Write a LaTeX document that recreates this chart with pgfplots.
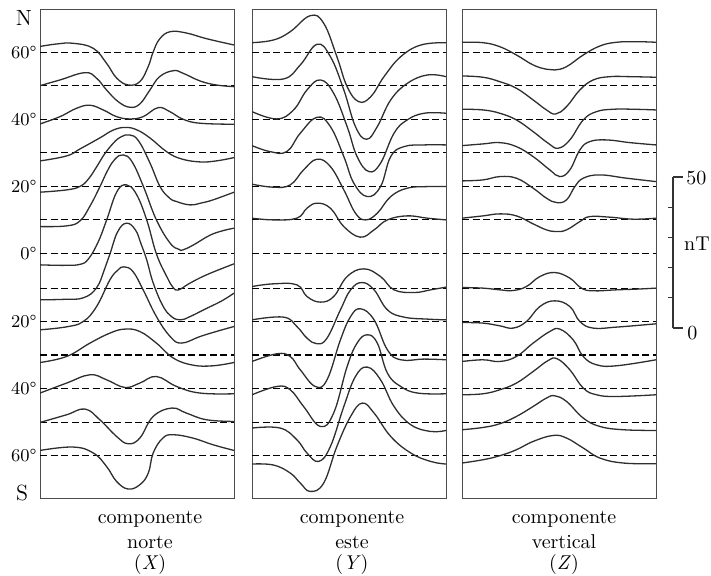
\documentclass[border=0pt]{standalone}
\usepackage{pgfplots}
\pgfplotsset{compat=1.18}
\pgfplotsset{
  panel/.style={scale only axis, width=97pt, height=244.5pt,
    xmin=0, xmax=24, ymin=-244.3, ymax=245,
    xtick=\empty, ytick=\empty,
    axis line style={line width=0.5pt, black!70}},
  cv/.style={smooth, tension=0.7, line width=0.65pt, black!82},
  bl/.style={line width=0.6pt, black, dash pattern=on 3.5pt off 1.8pt},
}
\newcommand{\baselines}{%
  \pgfplotsinvokeforeach{201.7,168.3,134.7,101.7,67.3,34,0,-34.3,-67.3,-101.3,-134.7,-168.7,-202}{%
    \addplot[bl] coordinates {(0,##1) (24,##1)};}}
\begin{document}
\begin{tikzpicture}[x=0.5pt,y=0.5pt]
\useasboundingbox (0,0) rectangle (711,575);

% ---------------- X component ----------------
\begin{axis}[panel, at={(20pt,283pt)}, anchor=north west,
  ytick={201.7,134.7,67.3,0,-67.3,-134.7,-202},
  yticklabels={60°,40°,20°,0°,20°,40°,60°},
  major tick length=0pt,
  yticklabel style={font=\fontsize{9}{10}\selectfont, inner xsep=1.5pt}]
\baselines
\addplot[cv] coordinates {(0,207.5)(2.06,210)(4.1,210.7)(6.59,205.7)(8.23,190.7)(9.47,176)(10.9,169)(12.35,172.3)(13.38,187.3)(14.0,202)(14.8,215)(16.1,222.3)(18.1,221)(20.6,215.3)(24,209)};
\addplot[cv] coordinates {(0,168.3)(2.47,174)(5.56,181.3)(7.0,175.7)(8.23,164)(9.67,152.3)(11.1,146.7)(12.35,150)(13.6,164)(14.8,177.3)(16.5,183.3)(17.7,180.7)(19.8,173)(21.8,169)(24,167.3)};
\addplot[cv] coordinates {(0,130)(2.47,137.3)(4.53,145.7)(6.18,148.7)(7.82,144)(9.47,137.3)(11.1,135)(12.76,137.3)(14.6,146.3)(16.06,142.3)(17.7,134.7)(19.8,130.7)(24,129.7)};
\addplot[cv] coordinates {(0,93)(3.3,98)(4.95,105)(7.4,116)(9.1,124)(10.6,126.5)(12,124)(13.6,116)(15.7,102)(17.5,95)(19.8,92)(21.8,93)(24,96.3)};
\addplot[cv] coordinates {(0,61.7)(3.3,64)(4.95,67.5)(6,75)(7,87)(8,100)(9.1,111)(10,117)(11.1,119)(12.2,113)(13.6,91)(14.85,67.3)(16,56)(16.9,52.3)(18.56,49)(20,51)(21.4,54)(24,61.7)};
\addplot[cv] coordinates {(0,27.3)(3.3,28)(4.95,33)(6.2,48)(7.4,67)(8.4,84)(9.3,95)(10.3,99)(11.4,92)(12.8,67.3)(14.4,34)(16.1,10.7)(17.2,4.5)(17.7,4)(19,9)(21.4,20)(24,25.7)};
\addplot[cv] coordinates {(0,-11)(3,-11.5)(4.95,-10.5)(6,-5)(7.2,12)(8.25,34)(9.5,62)(10.7,69)(11.9,60)(13.2,34)(14.4,0)(15.7,-23)(16.5,-34)(17.2,-36)(18.4,-30)(20.6,-21)(24,-10)};
\addplot[cv] coordinates {(0,-46)(3,-45.5)(5.35,-44)(7.0,-34)(8,-15)(8.66,0)(9.6,22)(10.7,30.7)(11.8,24)(12.5,10)(13.2,-6)(14.0,-29)(15.2,-52)(16.3,-63)(17.4,-66)(18.5,-63)(20.5,-55)(22.5,-47)(24,-39.3)};
\addplot[cv] coordinates {(0,-76)(3.3,-73)(5.35,-67.7)(7.0,-52.7)(8.65,-26)(9.67,-16)(10.4,-13)(11.5,-17.7)(12.76,-36)(14.4,-62.7)(16.1,-82.7)(17.5,-89.3)(19.8,-82.7)(21.8,-77.7)(24,-72.7)};
\addplot[cv] coordinates {(0,-108.7)(3.29,-102.7)(6.18,-89.3)(8.65,-79.3)(10.5,-75.3)(12.35,-77.7)(14.4,-89.3)(16.5,-104.3)(18.9,-111.3)(21.4,-112)(24,-108.7)};
\addplot[cv] coordinates {(0,-139.3)(3.29,-129.3)(6.18,-121)(8.23,-126)(10.5,-133.7)(12.35,-129.3)(14.4,-122.7)(16.9,-132.7)(19.8,-139.3)(24,-140)};
\addplot[cv] coordinates {(0,-168.7)(3.29,-161)(5.56,-155.3)(7.4,-166)(9.47,-182.7)(10.9,-190)(12.35,-184.3)(14.0,-162.7)(16.3,-154.3)(18.1,-159.3)(20.6,-166)(24,-167.7)};
\addplot[cv] coordinates {(0,-196.7)(4.1,-193.3)(6.6,-199.3)(8.23,-212.7)(9.47,-227.7)(10.9,-235.3)(12.35,-231)(13.4,-219.3)(14.0,-199.3)(15.2,-184.3)(16.5,-181)(18.9,-184.3)(21.4,-191)(24,-196.7)};
\end{axis}

% ---------------- Y component ----------------
\begin{axis}[panel, at={(126pt,283pt)}, anchor=north west]
\baselines
\addplot[cv] coordinates {(0,211.3)(2.65,214)(4.73,222.3)(7.2,238.3)(8.87,230.7)(10.5,197.3)(11.77,167.3)(13.2,152.3)(14.7,157.3)(16.33,177.3)(18.4,197.3)(20.9,209)(24,211.3)};
\addplot[cv] coordinates {(0,177.3)(3.9,175)(5.97,189)(8.04,209.7)(9.7,197.3)(11.36,164)(12.8,127.3)(14.18,114.7)(15.5,127.3)(17.16,154)(19.23,170.7)(21.7,179)(24,177.3)};
\addplot[cv] coordinates {(0,142.3)(3.07,135)(5.14,144)(6.8,164)(8.46,174)(10.1,160.7)(11.77,127.3)(13.0,97.3)(14.47,82.3)(15.9,90.7)(17.57,120.7)(19.2,134)(21.3,140.7)(24,140.7)};
\addplot[cv] coordinates {(0,108.3)(2.24,102.3)(4.3,102.3)(5.97,120.7)(8.04,136.7)(9.7,127.3)(11.36,97.3)(12.6,70.7)(14.26,57.3)(15.9,67.3)(17.16,97.3)(18.8,107.3)(21.3,109)(24,109)};
\addplot[cv] coordinates {(0,69.7)(2.65,66.7)(4.73,69)(6.38,84)(8.04,94.7)(9.7,87.3)(11.36,64)(12.8,40.7)(14.05,34)(15.5,40.7)(17.16,57.3)(19.2,65.7)(21.7,67.3)(24,67.3)};
\addplot[cv] coordinates {(0,35.7)(2.65,34)(5.55,35.7)(6.8,45.7)(8.04,50.7)(9.7,45.7)(11.36,27.3)(13.4,16.7)(15.1,24)(16.75,34)(19.2,38)(21.7,35.7)(24,34)};
\addplot[cv] coordinates {(0,-32.7)(2.65,-30)(5.55,-31)(6.8,-42.7)(8.46,-48.3)(10.1,-42.7)(11.77,-22.7)(13.84,-15)(15.9,-22.7)(17.57,-36)(20.06,-38.7)(22.1,-36)(24,-33.3)};
\addplot[cv] coordinates {(0,-66)(3.9,-63.3)(5.55,-72.7)(6.8,-84.3)(8.04,-90)(9.28,-84.3)(10.94,-56)(12.2,-36)(13.6,-28.7)(15.1,-36)(16.75,-56)(18.8,-63.3)(21.7,-65.3)(24,-66)};
\addplot[cv] coordinates {(0,-107.7)(3.07,-100)(4.73,-102.7)(5.97,-116)(7.83,-132.7)(9.28,-126)(10.94,-86)(12.2,-62.7)(13.43,-55)(15.1,-66)(16.75,-96)(18.4,-106)(21.3,-105.3)(24,-106)};
\addplot[cv] coordinates {(0,-141)(3.07,-132.7)(4.73,-136)(6.38,-152.7)(8.46,-172.7)(10.1,-159.3)(11.77,-112.7)(13.0,-89.3)(14.26,-81)(15.5,-89.3)(16.75,-119.3)(18.4,-132.7)(20.5,-139.3)(24,-140)};
\addplot[cv] coordinates {(0,-174.3)(3.48,-174.3)(5.55,-186)(6.8,-199.3)(8.25,-207.7)(9.7,-192.7)(11.36,-152.7)(12.8,-122.7)(14.26,-113.3)(15.9,-126)(17.57,-152.7)(19.65,-171)(22.1,-177.7)(24,-176.7)};
\addplot[cv] coordinates {(0,-210.3)(2.65,-211.3)(4.73,-219.3)(5.97,-229.3)(7.2,-237.7)(8.87,-229.3)(10.5,-192.7)(12.2,-162.7)(13.64,-149.3)(15.1,-159.3)(17.16,-182.7)(19.65,-199.3)(22.1,-207.7)(24,-210.3)};
\end{axis}

% ---------------- Z component ----------------
\begin{axis}[panel, at={(231pt,283pt)}, anchor=north west]
\baselines
\addplot[cv] coordinates {(0,211.7)(2.6,211.3)(4.67,207.3)(6.73,199)(8.8,189)(10.45,184.7)(11.48,184)(12.93,187.3)(15.0,199)(17.06,208)(19.1,211.7)(21.6,212.3)(24,211.7)};
\addplot[cv] coordinates {(0,178)(2.6,176.7)(4.67,172.3)(6.73,165.7)(8.8,154)(10.45,144)(11.6,140)(12.93,147.3)(14.58,164)(16.23,174)(18.3,177.3)(20.77,177.3)(24,176.7)};
\addplot[cv] coordinates {(0,144.7)(2.6,144)(4.67,140.7)(6.73,134)(8.8,122.3)(10.66,110.7)(11.9,105.7)(13.34,114)(15.0,134)(16.64,142.3)(18.7,144.7)(21.2,144.7)(24,144)};
\addplot[cv] coordinates {(0,108.3)(2.6,110)(4.67,111.3)(6.73,107.3)(8.8,97.3)(10.86,84)(12.1,77.3)(13.34,84)(14.58,104)(15.8,112.3)(17.9,114)(20.77,111.3)(24,109)};
\addplot[cv] coordinates {(0,73)(2.6,74)(4.67,77.3)(6.73,75.7)(8.8,65.7)(10.45,55.7)(11.7,51.3)(12.93,54)(13.96,67.3)(15.0,75.7)(17.06,79)(20.36,75.7)(24,72.3)};
\addplot[cv] coordinates {(0,35.7)(2.6,38)(4.67,40)(6.73,38)(8.8,30)(10.45,24)(11.7,22.3)(12.93,24)(14.58,32.3)(15.8,37.3)(18.3,36.7)(21.2,34.7)(24,35.7)};
\addplot[cv] coordinates {(0,-33.7)(2.6,-34.3)(4.67,-36)(6.32,-36.7)(7.97,-32.7)(9.63,-22.7)(11.48,-18.7)(13.34,-24.3)(14.78,-34.3)(16.23,-37)(19.1,-36)(21.6,-35.3)(24,-34.3)};
\addplot[cv] coordinates {(0,-68.7)(2.6,-69.3)(4.67,-72)(6.32,-74.3)(7.97,-67.7)(9.63,-52.7)(11.48,-47)(13.34,-52.7)(14.58,-67.7)(16.23,-74.3)(19.1,-73.3)(24,-70)};
\addplot[cv] coordinates {(0,-107.7)(2.6,-106)(4.67,-107.7)(6.73,-102.7)(8.8,-89.3)(10.86,-77.7)(12.1,-75.3)(13.75,-86)(15.0,-102.7)(16.64,-111)(19.1,-112)(24,-106)};
\addplot[cv] coordinates {(0,-141)(2.6,-140)(4.67,-136)(6.73,-129.3)(8.8,-117.7)(10.66,-106.7)(11.77,-105)(13.34,-116)(15.0,-134.3)(16.64,-141)(19.1,-142.7)(24,-141)};
\addplot[cv] coordinates {(0,-176)(2.6,-173.7)(4.67,-170)(6.73,-162.7)(8.8,-152.7)(10.45,-144.3)(11.48,-142)(12.93,-147.7)(15.0,-164.3)(17.06,-172.7)(19.95,-176)(24,-176.7)};
\addplot[cv] coordinates {(0,-209.3)(2.6,-206)(4.67,-202)(6.73,-196)(8.8,-187.7)(11.27,-181.7)(12.93,-184.3)(15.0,-194.3)(17.06,-204.3)(19.95,-209.3)(24,-210)};
\end{axis}

% ---------------- scale bar ----------------
\begin{axis}[scale only axis, width=10pt, height=75.5pt,
  at={(336.5pt,123.5pt)}, anchor=south west,
  xmin=0, xmax=1, ymin=0, ymax=50,
  hide x axis, axis y line=left,
  axis line style={-, line width=0.6pt, black!80},
  ytick={10,20,30,40}, yticklabels={,,,},
  tick align=outside, major tick length=2.5pt,
  tick style={line width=0.6pt, black!80}, clip=false]
\addplot[draw=none] coordinates {(0,0)(1,50)};
\draw[line width=0.6pt, black!80] (axis cs:0,0) -- ++(5pt,0);
\draw[line width=0.6pt, black!80] (axis cs:0,50) -- ++(5pt,0);
\end{axis}

\begin{scope}[every node/.style={inner sep=0pt}]
\node[font=\fontsize{10}{12}\selectfont, anchor=west] at (686,397) {50};
\node[font=\fontsize{10}{12}\selectfont, anchor=west] at (687,242) {0};
\node[font=\fontsize{10}{12}\selectfont] at (697,331) {nT};
\node[font=\fontsize{11}{13}\selectfont] at (24,557) {N};
\node[font=\fontsize{11}{13}\selectfont] at (22,82) {S};
\foreach \cx/\nm/\sym in {150/norte/X, 352/este/Y, 564/vertical/Z}{
  \node[font=\fontsize{10}{12}\selectfont] at (\cx,56) {componente};
  \node[font=\fontsize{10}{12}\selectfont] at (\cx,33) {\nm};
  \node[font=\fontsize{10}{12}\selectfont] at (\cx,11) {(\textit{\sym})};
}
\end{scope}
\end{tikzpicture}
\end{document}
